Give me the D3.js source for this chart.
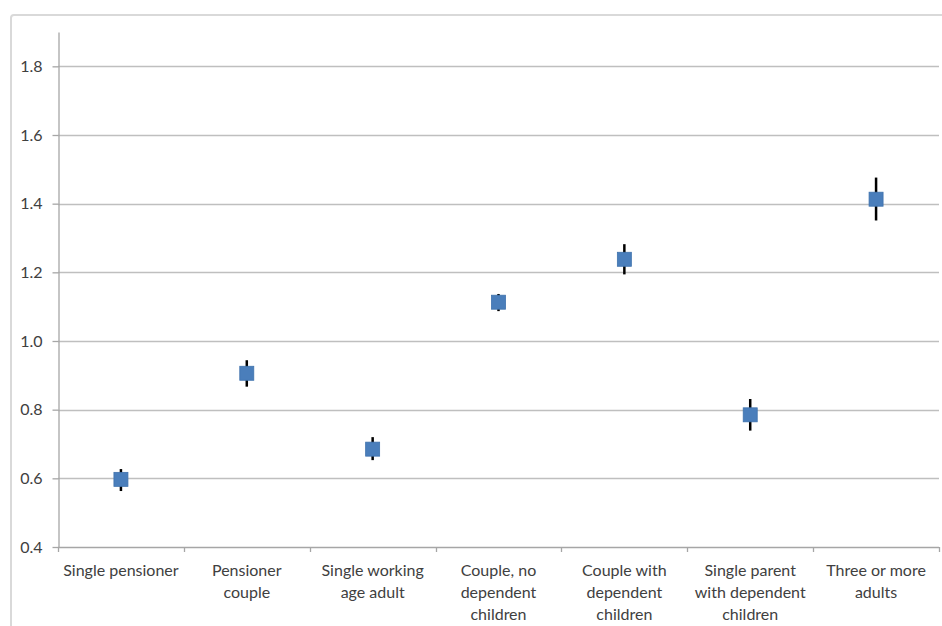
<!DOCTYPE html>
<html>
<head>
<meta charset="utf-8">
<script src="https://cdn.jsdelivr.net/npm/d3@7"></script>
<style>
  html, body { margin: 0; padding: 0; background: #fff; }
  svg { display: block; }
  .tick text, .cat-label { font-family: Lato, "Open Sans", sans-serif; fill: #404040; }
</style>
</head>
<body>
<svg id="chart" width="942" height="626"></svg>
<script>
// Household types and their ratio estimates with confidence limits
const categories = [
  ["Single pensioner"],
  ["Pensioner", "couple"],
  ["Single working", "age adult"],
  ["Couple, no", "dependent", "children"],
  ["Couple with", "dependent", "children"],
  ["Single parent", "with dependent", "children"],
  ["Three or more", "adults"]
];
const estimates = [0.597, 0.906, 0.685, 1.113, 1.238, 0.785, 1.413];
const upperLimits = [0.627, 0.944, 0.720, 1.137, 1.282, 0.831, 1.476];
const lowerLimits = [0.563, 0.867, 0.653, 1.087, 1.194, 0.739, 1.351];
const yTicks = [0.4, 0.6, 0.8, 1.0, 1.2, 1.4, 1.6, 1.8];

const svg = d3.select("#chart");

// Outer chart frame (right and bottom edges run past the page)
svg.append("rect")
  .attr("x", 11).attr("y", 15)
  .attr("width", 960).attr("height", 640)
  .attr("rx", 3)
  .attr("fill", "none")
  .attr("stroke", "#d9d9d9")
  .attr("stroke-width", 2);

const plot = { left: 58, right: 939, top: 32, bottom: 547 };

const x = d3.scaleBand()
  .domain(d3.range(categories.length))
  .range([plot.left, plot.right])
  .paddingInner(0).paddingOuter(0);

const y = d3.scaleLinear()
  .domain([0.4, 1.9])
  .range([plot.bottom, plot.top]);

// Horizontal gridlines
svg.append("g")
  .selectAll("line")
  .data(yTicks.filter(t => t > 0.4))
  .join("line")
  .attr("x1", plot.left).attr("x2", plot.right)
  .attr("y1", d => Math.round(y(d)) + 0.5)
  .attr("y2", d => Math.round(y(d)) + 0.5)
  .attr("stroke", "#bfbfbf")
  .attr("stroke-width", 1.3);

// Y axis
const yAxis = svg.append("g")
  .attr("transform", `translate(${plot.left + 0.5},0)`)
  .call(d3.axisLeft(y).tickValues(yTicks).tickFormat(d3.format(".1f")).tickSize(6).tickPadding(10).tickSizeOuter(0));
yAxis.select(".domain").attr("stroke", "#a6a6a6").attr("stroke-width", 1.3);
yAxis.selectAll(".tick line").attr("stroke", "#a6a6a6").attr("stroke-width", 1.3);
yAxis.selectAll(".tick text").attr("font-size", 16);

// X axis line with category boundary ticks
const xAxisG = svg.append("g");
xAxisG.append("line")
  .attr("x1", plot.left).attr("x2", plot.right)
  .attr("y1", plot.bottom + 0.5).attr("y2", plot.bottom + 0.5)
  .attr("stroke", "#a6a6a6").attr("stroke-width", 1.3);
xAxisG.selectAll("line.bt")
  .data(d3.range(categories.length + 1))
  .join("line")
  .attr("class", "bt")
  .attr("x1", i => Math.round(plot.left + i * x.bandwidth()) + 0.5)
  .attr("x2", i => Math.round(plot.left + i * x.bandwidth()) + 0.5)
  .attr("y1", plot.bottom)
  .attr("y2", plot.bottom + 5)
  .attr("stroke", "#a6a6a6").attr("stroke-width", 1.3);

// Category labels
const labels = svg.append("g")
  .selectAll("text")
  .data(categories)
  .join("text")
  .attr("class", "cat-label")
  .attr("text-anchor", "middle")
  .attr("font-size", 16)
  .attr("x", (d, i) => x(i) + x.bandwidth() / 2)
  .attr("y", 576);
labels.selectAll("tspan")
  .data(d => d)
  .join("tspan")
  .attr("x", function() { return d3.select(this.parentNode).attr("x"); })
  .attr("dy", (d, i) => i === 0 ? 0 : 22)
  .text(d => d);

// Error bars
svg.append("g")
  .selectAll("line")
  .data(estimates)
  .join("line")
  .attr("x1", (d, i) => x(i) + x.bandwidth() / 2)
  .attr("x2", (d, i) => x(i) + x.bandwidth() / 2)
  .attr("y1", (d, i) => y(upperLimits[i]))
  .attr("y2", (d, i) => y(lowerLimits[i]))
  .attr("stroke", "#000")
  .attr("stroke-width", 2.5);

// Point estimates as square markers
const size = 14;
svg.append("g")
  .selectAll("rect")
  .data(estimates)
  .join("rect")
  .attr("x", (d, i) => x(i) + x.bandwidth() / 2 - size / 2)
  .attr("y", d => y(d) - size / 2)
  .attr("width", size)
  .attr("height", size)
  .attr("fill", "#4a7ebb")
  .attr("stroke", "#3f72ad")
  .attr("stroke-width", 0.8);
</script>
</body>
</html>
